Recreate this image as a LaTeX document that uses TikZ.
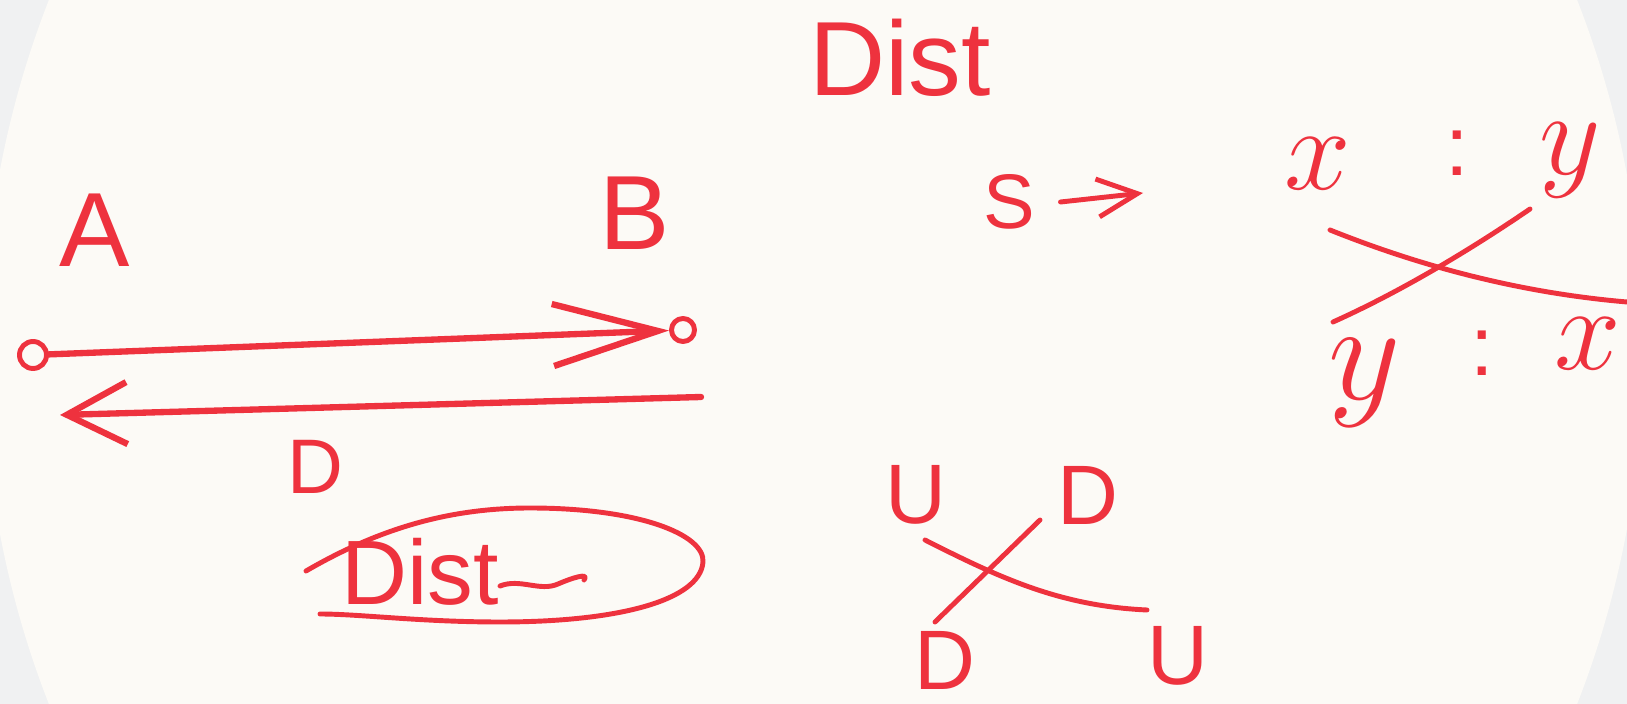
\RequirePackage{fix-cm}
\documentclass[tikz,border=0pt]{standalone}
\usepackage{fontspec}
\setmainfont{Liberation Sans}
\usetikzlibrary{positioning, calc, arrows.meta}

\definecolor{ink}{RGB}{238,50,62}
\definecolor{paper}{RGB}{252,250,246}
\definecolor{rim}{RGB}{240,241,242}

\begin{document}
\begin{tikzpicture}[x=0.01cm, y=-0.01cm,
    pen/.style={ink, line width=1.4pt, line cap=round, line join=round},
    lbl/.style={text=ink, inner sep=0pt},
    big/.style={lbl, font=\fontsize{30}{30}\selectfont},
    mid/.style={lbl, font=\fontsize{24}{24}\selectfont},
    small/.style={lbl, font=\fontsize{22}{22}\selectfont},
    var/.style={lbl, anchor=base, font=\fontsize{34}{34}\selectfont},
    dot/.style={pen, draw, circle, inner sep=0pt}]
    \useasboundingbox (0,0) rectangle (1627,704);
    \clip (0,0) rectangle (1627,704);
    % sheet
    \fill[rim] (0,0) rectangle (1627,704);
    \fill[paper] (813,352) ellipse [x radius=830, y radius=900];

    \node[big] (title) at (900,58) {Dist};

    % A to B and back
    \node[big] (lA) at (95,230) {A};
    \node[big] (lB) at (635,213) {B};
    \node[dot, minimum size=0.27cm] (pA) at (33,355) {};
    \node[dot, minimum size=0.23cm] (pB) at (683,330) {};
    \draw[pen, line width=1.8pt, -{Straight Barb[length=1.05cm, width=0.62cm]}] (pA) -- (pB);
    \coordinate (bR) at (701,397);
    \coordinate (bL) at (60,415);
    \draw[pen, line width=1.8pt, -{Straight Barb[length=0.6cm, width=0.62cm]}] (bR) -- (bL);
    \node[small] (lD) at (315,467) {D};

    % circled word
    \node[lbl, font=\fontsize{26}{26}\selectfont] (note) at (420,572) {Dist};
    \draw[pen] (500,586) .. controls (520,578) and (540,592) .. (558,584)
        .. controls (572,578) and (590,572) .. (584,580);
    \draw[pen] (306,571) .. controls (380,528) and (450,508) .. (530,508)
        .. controls (640,508) and (705,535) .. (703,562)
        .. controls (700,600) and (620,622) .. (500,622)
        .. controls (420,622) and (360,614) .. (320,614);

    % S -> cross
    \node[small] (lS) at (1009,202) {S};
    \coordinate (sEnd) at (1143,193);
    \draw[pen, -{Straight Barb[length=0.4cm, width=0.38cm]}] ([xshift=0.25cm]lS.east) -- (sEnd);

    \node[var] (x1) at (1318,190) {$x$};
    \node[mid, anchor=base] (k1) at (1457,176) {:};
    \node[var] (y1) at (1570,175) {$y$};
    \node[var, font=\fontsize{40}{40}\selectfont] (y2) at (1365,400) {$y$};
    \node[mid, anchor=base] (k2) at (1482,376) {:};
    \node[var] (x2) at (1588,370) {$x$};
    \coordinate (c1a) at (1330,230);
    \coordinate (c1b) at (1627,302);
    \coordinate (c2a) at (1333,322);
    \coordinate (c2b) at (1530,209);
    \draw[pen] (c1a) .. controls (1410,262) and (1510,292) .. (c1b);
    \draw[pen] (c2a) .. controls (1400,292) and (1470,250) .. (c2b);

    % U / D cross
    \node[mid] (u1) at (916,495) {U};
    \node[mid] (d1) at (1088,495) {D};
    \node[mid] (d2) at (945,660) {D};
    \node[mid] (u2) at (1178,656) {U};
    \coordinate (e1a) at (925,540);
    \coordinate (e1b) at (1147,610);
    \coordinate (e2a) at (935,622);
    \coordinate (e2b) at (1040,520);
    \draw[pen] (e1a) .. controls (1000,578) and (1060,606) .. (e1b);
    \draw[pen] (e2a) -- (e2b);
\end{tikzpicture}
\end{document}
